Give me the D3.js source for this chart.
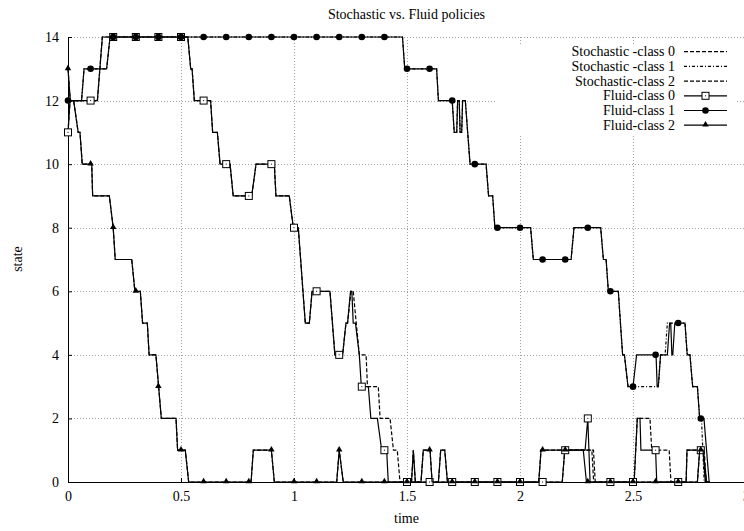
<!DOCTYPE html>
<html lang="en">
  <head>
    <meta charset="utf-8">
    <title>Stochastic vs. Fluid policies</title>
    <script src="https://d3js.org/d3.v7.min.js"></script>
    <style>
      body { margin: 0; background: #fff; }
      svg text { font-family: "Liberation Serif", "DejaVu Serif", serif; }
    </style>
  </head>
  <body>
    <svg width="744" height="531"></svg>
    <script>

    // tick labels
    var xTicks = [0, 0.5, 1, 1.5, 2, 2.5, 3];
    var xTickLabels = ["0", "0.5", "1", "1.5", "2", "2.5", "3"];
    var yTicks = [0, 2, 4, 6, 8, 10, 12, 14];
    var yTickLabels = ["0", "2", "4", "6", "8", "10", "12", "14"];

    // series, [time, state]
    var fluid0 = [[0,11],[0.009,12],[0.13,12],[0.152,14],[0.53,14],[0.543,13],[0.549,13],[0.559,12],[0.631,12],[0.64,11],[0.661,11],[0.673,10],[0.717,10],[0.731,9],[0.813,9],[0.832,10],[0.913,10],[0.92,9],[0.979,9],[0.997,8],[1.019,8],[1.05,5],[1.068,5],[1.08,6],[1.159,6],[1.181,4],[1.215,4],[1.23,5],[1.237,5],[1.25,6],[1.256,6],[1.262,5],[1.272,5],[1.289,4],[1.298,3],[1.329,3],[1.34,2],[1.369,2],[1.388,1],[1.41,1],[1.417,0],[2.187,0],[2.198,1],[2.288,1],[2.3,2],[2.31,0],[2.505,0],[2.519,2],[2.531,2],[2.535,1],[2.6,1],[2.605,0],[2.735,0],[2.739,1],[2.81,1],[2.826,0],[2.84,0]];
    var fluid1 = [[0,12],[0.06,12],[0.071,13],[0.171,13],[0.186,14],[1.48,14],[1.49,13],[1.631,13],[1.639,12],[1.7,12],[1.709,11],[1.72,11],[1.724,12],[1.731,12],[1.735,11],[1.742,11],[1.746,12],[1.758,12],[1.779,10],[1.85,10],[1.861,9],[1.879,9],[1.889,8],[2.047,8],[2.059,7],[2.226,7],[2.239,8],[2.357,8],[2.369,7],[2.381,7],[2.391,6],[2.435,6],[2.454,4],[2.462,4],[2.478,3],[2.5,3],[2.516,4],[2.602,4],[2.607,3],[2.612,3],[2.622,4],[2.652,4],[2.662,5],[2.667,5],[2.672,4],[2.676,4],[2.685,5],[2.73,5],[2.74,4],[2.752,4],[2.764,3],[2.785,3],[2.795,2],[2.814,2],[2.837,0],[2.84,0]];
    var fluid2 = [[0,13],[0.01,12],[0.025,12],[0.045,11],[0.053,11],[0.063,10],[0.105,10],[0.109,9],[0.183,9],[0.2,8],[0.209,7],[0.282,7],[0.296,6],[0.32,6],[0.33,5],[0.351,5],[0.359,4],[0.389,4],[0.401,3],[0.413,2],[0.478,2],[0.485,1],[0.519,1],[0.534,0],[0.81,0],[0.82,1],[0.9,1],[0.913,0],[1.189,0],[1.2,1],[1.218,0],[1.52,0],[1.528,1],[1.537,0],[1.562,0],[1.572,1],[1.602,1],[1.611,0],[1.639,0],[1.649,1],[1.667,1],[1.679,0],[2.083,0],[2.093,1],[2.28,1],[2.294,0],[2.785,0],[2.795,1],[2.81,1],[2.82,0],[2.84,0]];

    var stoch0 = [[0,11],[0.009,12],[0.13,12],[0.152,14],[0.53,14],[0.543,13],[0.549,13],[0.559,12],[0.631,12],[0.64,11],[0.661,11],[0.673,10],[0.717,10],[0.731,9],[0.813,9],[0.832,10],[0.913,10],[0.92,9],[0.979,9],[0.997,8],[1.019,8],[1.05,5],[1.068,5],[1.08,6],[1.159,6],[1.181,4],[1.215,4],[1.23,5],[1.237,5],[1.252,6],[1.262,6],[1.289,4],[1.319,4],[1.325,3],[1.373,3],[1.381,2],[1.425,2],[1.44,1],[1.457,1],[1.469,0],[2.187,0],[2.198,1],[2.325,1],[2.333,0],[2.505,0],[2.519,2],[2.575,2],[2.583,1],[2.66,1],[2.668,0],[2.735,0],[2.739,1],[2.815,1],[2.824,0],[2.84,0]];
    var stoch1 = [[0,12],[0.06,12],[0.071,13],[0.171,13],[0.186,14],[1.48,14],[1.49,13],[1.631,13],[1.639,12],[1.7,12],[1.709,11],[1.72,11],[1.724,12],[1.731,12],[1.735,11],[1.742,11],[1.746,12],[1.758,12],[1.779,10],[1.85,10],[1.861,9],[1.879,9],[1.889,8],[2.047,8],[2.059,7],[2.226,7],[2.239,8],[2.357,8],[2.369,7],[2.381,7],[2.391,6],[2.435,6],[2.454,4],[2.462,4],[2.478,3],[2.612,3],[2.622,4],[2.642,4],[2.652,5],[2.73,5],[2.74,4],[2.752,4],[2.764,3],[2.785,3],[2.795,2],[2.803,2],[2.815,0],[2.84,0]];
    var stoch2 = [[0,13],[0.01,12],[0.025,12],[0.045,11],[0.053,11],[0.063,10],[0.105,10],[0.109,9],[0.183,9],[0.2,8],[0.209,7],[0.282,7],[0.296,6],[0.32,6],[0.33,5],[0.351,5],[0.359,4],[0.389,4],[0.401,3],[0.413,2],[0.478,2],[0.485,1],[0.519,1],[0.534,0],[0.81,0],[0.82,1],[0.9,1],[0.913,0],[1.189,0],[1.2,1],[1.218,0],[1.52,0],[1.528,1],[1.537,0],[1.562,0],[1.572,1],[1.602,1],[1.611,0],[1.639,0],[1.649,1],[1.667,1],[1.679,0],[2.083,0],[2.093,1],[2.318,1],[2.326,0],[2.785,0],[2.795,1],[2.812,1],[2.822,0],[2.84,0]];

    // point markers on the fluid curves
    var markTimes = [0,0.1,0.2,0.3,0.4,0.5,0.6,0.7,0.8,0.9,1,1.1,1.2,1.3,1.4,1.5,1.6,1.7,1.8,1.9,2,2.1,2.2,2.3,2.4,2.5,2.6,2.7,2.8];
    var marks0 = [11,12,14,14,14,14,12,10,9,10,8,6,4,3,1,0,0,0,0,0,0,0,1,2,0,0,1,0,1];
    var marks1 = [12,13,14,14,14,14,14,14,14,14,14,14,14,14,14,13,13,12,10,8,8,7,7,8,6,3,4,5,2];
    var marks2 = [13,10,8,6,3,1,0,0,0,1,0,0,1,0,0,0,1,0,0,0,0,1,1,0,0,0,0,0,1];

    var legendLabels = ["Stochastic -class 0", "Stochastic -class 1", "Stochastic-class 2", "Fluid-class 0", "Fluid-class 1", "Fluid-class 2"];

    var svg = d3.select("svg");

    var x = d3.scaleLinear().domain([0, 3]).range([68, 746]);
    var y = d3.scaleLinear().domain([0, 14]).range([482, 37]);

    var gridColor = "#a0a0a0";

    // grid
    svg.append("g").selectAll("line")
        .data(xTicks.slice(1))
      .enter().append("line")
        .attr("x1", function(d) { return Math.round(x(d)) + 0.5; })
        .attr("x2", function(d) { return Math.round(x(d)) + 0.5; })
        .attr("y1", y(0)).attr("y2", y(14))
        .attr("stroke", gridColor).attr("stroke-dasharray", "1,2");

    svg.append("g").selectAll("line")
        .data(yTicks.slice(1))
      .enter().append("line")
        .attr("y1", function(d) { return Math.round(y(d)) + 0.5; })
        .attr("y2", function(d) { return Math.round(y(d)) + 0.5; })
        .attr("x1", x(0)).attr("x2", x(3))
        .attr("stroke", gridColor).attr("stroke-dasharray", "1,2");

    // key background
    svg.append("rect")
        .attr("x", 496).attr("y", 44).attr("width", 240).attr("height", 90)
        .attr("fill", "#fff");

    // axes
    var xAxis = svg.append("g")
        .attr("transform", "translate(0," + y(0) + ")")
        .call(d3.axisBottom(x).tickValues(xTicks).tickSizeInner(-4).tickSizeOuter(0).tickPadding(9)
          .tickFormat(function(d, i) { return xTickLabels[i]; }));
    var yAxis = svg.append("g")
        .attr("transform", "translate(" + x(0) + ",0)")
        .call(d3.axisLeft(y).tickValues(yTicks).tickSizeInner(-4).tickSizeOuter(0).tickPadding(9)
          .tickFormat(function(d, i) { return yTickLabels[i]; }));
    [xAxis, yAxis].forEach(function(a) {
      a.attr("font-family", null).attr("font-size", null);
      a.selectAll("text").attr("font-size", 14).attr("fill", "#000");
      a.selectAll("line, path").attr("stroke", "#000");
    });

    var line = d3.line()
        .x(function(d) { return x(d[0]); })
        .y(function(d) { return y(d[1]); });

    function drawLine(data, dash) {
      svg.append("path")
          .datum(data)
          .attr("d", line)
          .attr("fill", "none")
          .attr("stroke", "#000")
          .attr("stroke-width", 1.2)
          .attr("stroke-dasharray", dash);
    }

    function drawMark(g, cx, cy, type) {
      if (type == "square") {
        g.append("rect").attr("x", cx - 3.5).attr("y", cy - 3.5).attr("width", 7).attr("height", 7)
            .attr("fill", "#fff").attr("stroke", "#000").attr("stroke-width", 1);
        g.append("rect").attr("x", cx - 0.5).attr("y", cy - 0.5).attr("width", 1).attr("height", 1)
            .attr("fill", "#000");
      } else if (type == "circle") {
        g.append("circle").attr("cx", cx).attr("cy", cy).attr("r", 3.3).attr("fill", "#000");
      } else {
        g.append("path").attr("d", d3.symbol(d3.symbolTriangle, 18)())
            .attr("transform", "translate(" + cx + "," + (cy - 0.5) + ")")
            .attr("fill", "#000");
      }
    }

    function drawMarks(vals, type) {
      var g = svg.append("g");
      markTimes.forEach(function(t, i) {
        drawMark(g, x(t), y(vals[i]), type);
      });
    }

    var dash0 = "4,2", dash1 = "3,2,1,2", dash2 = "4,2";

    drawLine(stoch0, dash0);
    drawLine(stoch1, dash1);
    drawLine(stoch2, dash2);
    drawLine(fluid0, null);
    drawMarks(marks0, "square");
    drawLine(fluid1, null);
    drawMarks(marks1, "circle");
    drawLine(fluid2, null);
    drawMarks(marks2, "triangle");

    // key
    var key = svg.append("g");
    var keyStyles = [[dash0, null], [dash1, null], [dash2, null], [null, "square"], [null, "circle"], [null, "triangle"]];
    legendLabels.forEach(function(label, i) {
      var ky = 51.7 + i * 14.7;
      key.append("text")
          .attr("x", 675).attr("y", ky + 4.5)
          .attr("text-anchor", "end")
          .attr("font-size", 14)
          .text(label);
      key.append("line")
          .attr("x1", 684).attr("x2", 727).attr("y1", ky).attr("y2", ky)
          .attr("stroke", "#000").attr("stroke-width", 1.2)
          .attr("stroke-dasharray", keyStyles[i][0]);
      if (keyStyles[i][1]) drawMark(key, 705.5, ky, keyStyles[i][1]);
    });

    // titles
    svg.append("text")
        .attr("x", 406.5).attr("y", 19)
        .attr("text-anchor", "middle").attr("font-size", 14)
        .text("Stochastic vs. Fluid policies");
    svg.append("text")
        .attr("x", 406.5).attr("y", 523)
        .attr("text-anchor", "middle").attr("font-size", 14)
        .text("time");
    svg.append("text")
        .attr("transform", "translate(22,259) rotate(-90)")
        .attr("text-anchor", "middle").attr("font-size", 14)
        .text("state");

    </script>
  </body>
</html>
